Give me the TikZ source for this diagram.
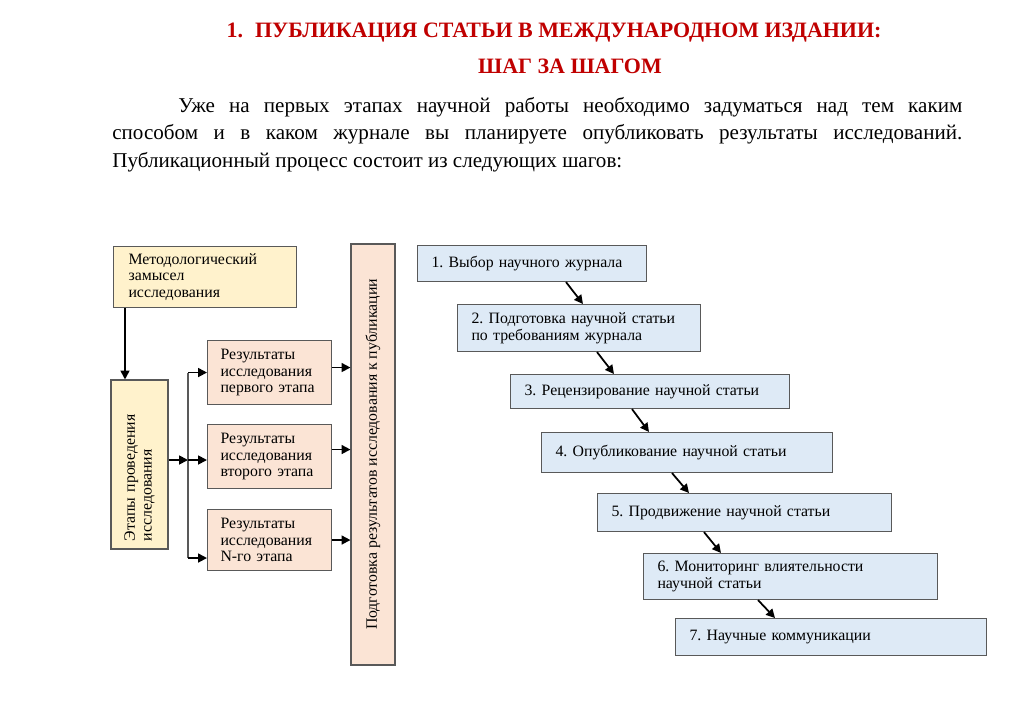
\documentclass[tikz,border=0pt]{standalone}
\usepackage{fontspec}
\setmainfont{Liberation Serif}
\usepackage{xcolor}
\usetikzlibrary{arrows.meta}
\usetikzlibrary{calc}

\definecolor{titlered}{HTML}{C00000}
\definecolor{ylwfill}{HTML}{FFF2CC}
\definecolor{peachfill}{HTML}{FBE4D5}
\definecolor{bluefill}{HTML}{DEEAF6}
\definecolor{boxline}{HTML}{595959}

\newlength{\px}
\setlength{\px}{0.02cm}
\frenchspacing

\tikzset{
  box/.style={draw=boxline, line width=0.6pt, inner ysep=0pt, align=left,
    font=\fontsize{9}{9.6}\selectfont},
  ylwbox/.style={box, fill=ylwfill},
  peachbox/.style={box, fill=peachfill},
  stepbox/.style={box, fill=bluefill, anchor=north west, inner xsep=14*\px},
  arr/.style={-{Triangle[length=5pt,width=5pt]}, line width=1pt, black},
}

\begin{document}
\begin{tikzpicture}[x=0.02cm, y=-0.02cm]
    \fill[white] (0,0) rectangle (1021,703);
    \useasboundingbox (0,0) rectangle (1021,703);

    % heading and intro
    \node[anchor=base, inner sep=0pt, text=titlered,
      font=\fontsize{12.5}{14}\selectfont\bfseries] (title) at (554,37)
      {1.\hspace{0.55em}ПУБЛИКАЦИЯ СТАТЬИ В МЕЖДУНАРОДНОМ ИЗДАНИИ:};
    \node[anchor=base, inner sep=0pt, text=titlered,
      font=\fontsize{12.5}{14}\selectfont\bfseries] (subtitle) at (570,73)
      {ШАГ ЗА ШАГОМ};
    \node[anchor=base west, inner sep=0pt, text width=850*\px, align=justify,
      font=\fontsize{12}{15.9}\selectfont] (intro) at (112,112)
      {\hspace*{1.32cm}Уже на первых этапах научной работы необходимо
      задуматься над тем каким\linebreak способом и в каком журнале вы
      планируете опубликовать результаты исследований.\linebreak
      Публикационный процесс состоит из следующих шагов:};

    % left scheme
    \node[ylwbox, anchor=north west, minimum height=61*\px,
      text width=153*\px, inner xsep=15*\px] (meth) at (113,246)
      {Методологический\\замысел\\исследования};
    \node[ylwbox, rotate=90, minimum width=169*\px, minimum height=57*\px,
      text width=153*\px, inner xsep=8*\px] (stages) at (139.5,464.5)
      {Этапы проведения\\исследования};
    \node[peachbox, anchor=north west, minimum height=64*\px,
      text width=98*\px, inner xsep=13*\px] (res1) at (207,340)
      {Результаты\\исследования\\первого этапа};
    \node[peachbox, anchor=north west, minimum height=64*\px,
      text width=98*\px, inner xsep=13*\px] (res2) at (207,424)
      {Результаты\\исследования\\второго этапа};
    \node[peachbox, anchor=north west, minimum height=61*\px,
      text width=98*\px, inner xsep=13*\px] (res3) at (207,509)
      {Результаты\\исследования\\N-го этапа};
    \node[peachbox, rotate=90, minimum width=421*\px, minimum height=44*\px,
      align=center] (prep) at (373,454.5)
      {Подготовка результатов исследования к публикации};

    \coordinate (split) at (188,460);
    \draw[arr] ([xshift=12*\px]meth.south west)
      -- ([xshift=12*\px]meth.south west |- stages.east);
    \draw[arr] (split -| stages.south) -- (split);
    \draw[draw=boxline, line width=0.7pt] (split |- res1.west)
      -- ([yshift=-18*\px]split |- res3.west);
    \draw[arr] (split |- res1.west) -- (res1.west);
    \draw[arr] (split) -- (split -| res2.west);
    \draw[arr] ([yshift=-18*\px]split |- res3.west)
      -- ([yshift=-18*\px]res3.west);
    \draw[arr] ([yshift=5*\px]res1.east) -- ([yshift=5*\px]res1.east -| prep.north);
    \draw[arr] ([yshift=7*\px]res2.east) -- ([yshift=7*\px]res2.east -| prep.north);
    \draw[arr] (res3.east) -- (res3.east -| prep.north);

    % publication steps
    \node[stepbox, minimum height=36*\px, text width=201*\px] (s1) at (417,245)
      {1. Выбор научного журнала};
    \node[stepbox, minimum height=47*\px, text width=215*\px] (s2) at (457,304)
      {2. Подготовка научной статьи\\по требованиям журнала};
    \node[stepbox, minimum height=34*\px, text width=251*\px] (s3) at (510,374)
      {3. Рецензирование научной статьи};
    \node[stepbox, minimum height=40*\px, text width=263*\px] (s4) at (541,432)
      {4. Опубликование научной статьи};
    \node[stepbox, minimum height=38*\px, text width=266*\px] (s5) at (597,493)
      {5. Продвижение научной статьи};
    \node[stepbox, minimum height=46*\px, text width=266*\px] (s6) at (643,553)
      {6. Мониторинг влиятельности\\научной статьи};
    \node[stepbox, minimum height=37*\px, text width=283*\px] (s7) at (675,618)
      {7. Научные коммуникации};

    \foreach \a/\b/\off in {s1/s2/149, s2/s3/140, s3/s4/122, s4/s5/131, s5/s6/107, s6/s7/115}
      \draw[arr] ([xshift=\off*\px]\a.south west)
        -- ([xshift=(\off+17)*\px]\a.south west |- \b.north);
\end{tikzpicture}
\end{document}
